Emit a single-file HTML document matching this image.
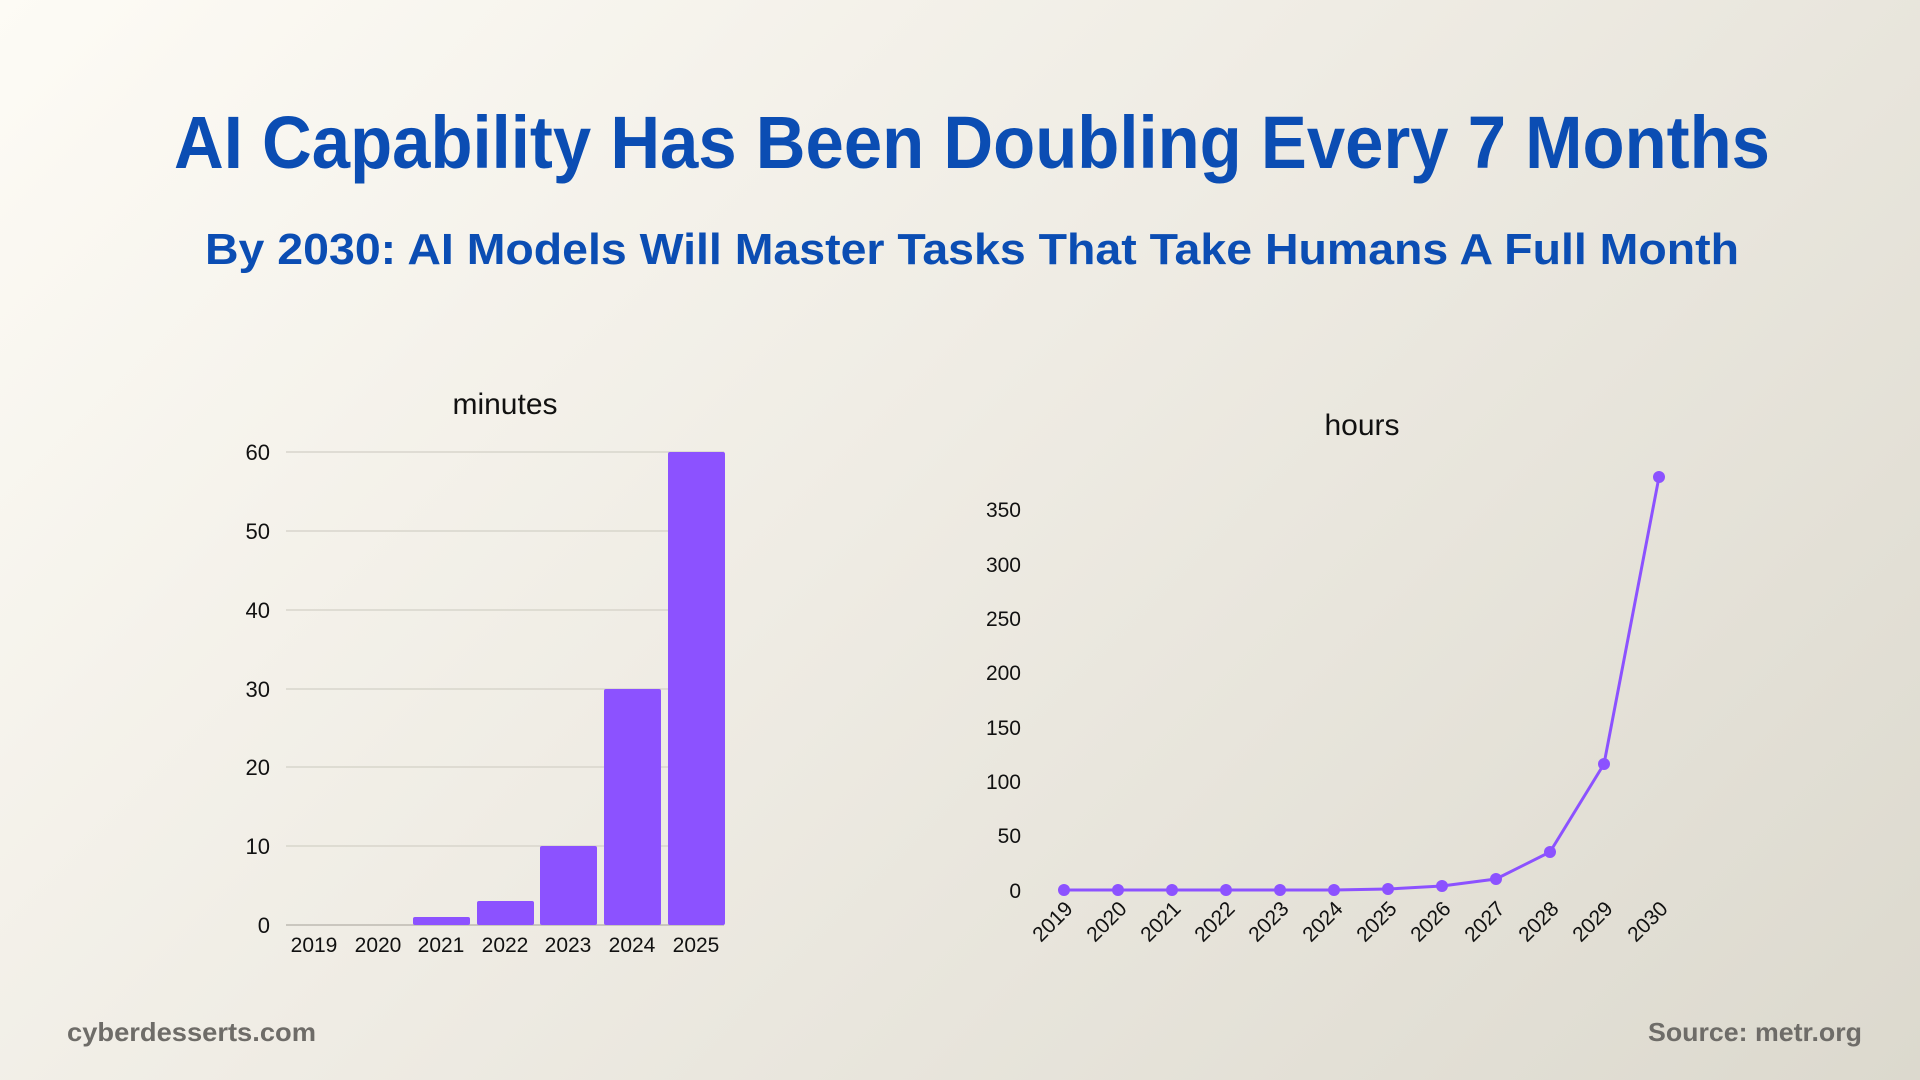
<!DOCTYPE html>
<html><head><meta charset="utf-8"><style>
html,body{margin:0;padding:0;width:1920px;height:1080px;overflow:hidden}
body{background:linear-gradient(135deg,#fdfbf5 0%,#efece4 45%,#dcd9ce 100%)}
svg{position:absolute;left:0;top:0}
</style></head><body>
<svg width="1920" height="1080" viewBox="0 0 1920 1080" font-family="Liberation Sans, DejaVu Sans, sans-serif">
<text x="972" y="168" text-anchor="middle" font-size="74" font-weight="bold" fill="#0b4db3" textLength="1596" lengthAdjust="spacingAndGlyphs">AI Capability Has Been Doubling Every 7 Months</text>
<text x="972" y="264" text-anchor="middle" font-size="44" font-weight="bold" fill="#0b4db3" textLength="1534" lengthAdjust="spacingAndGlyphs">By 2030: AI Models Will Master Tasks That Take Humans A Full Month</text>

<!-- bar chart -->
<text x="505" y="414" text-anchor="middle" font-size="30" fill="#111">minutes</text>
<g stroke="#d8d5cc" stroke-width="1.5">
<line x1="286" x2="724" y1="452" y2="452"/><line x1="286" x2="724" y1="531" y2="531"/>
<line x1="286" x2="724" y1="610" y2="610"/><line x1="286" x2="724" y1="689" y2="689"/>
<line x1="286" x2="724" y1="767" y2="767"/><line x1="286" x2="724" y1="846" y2="846"/>
</g>
<line x1="286" x2="724" y1="925" y2="925" stroke="#bdbab2" stroke-width="1.5"/>
<g font-size="22" fill="#111" text-anchor="end">
<text x="270" y="460">60</text><text x="270" y="539">50</text><text x="270" y="618">40</text>
<text x="270" y="697">30</text><text x="270" y="775">20</text><text x="270" y="854">10</text><text x="270" y="933">0</text>
</g>
<g fill="#8c52ff">
<rect x="413" y="917" width="57" height="8" rx="2"/>
<rect x="477" y="901" width="57" height="24" rx="2"/>
<rect x="540" y="846" width="57" height="79" rx="2"/>
<rect x="604" y="689" width="57" height="236" rx="2"/>
<rect x="668" y="452" width="57" height="473" rx="2"/>
</g>
<g font-size="21" fill="#111" text-anchor="middle">
<text x="314" y="952">2019</text><text x="378" y="952">2020</text><text x="441" y="952">2021</text>
<text x="505" y="952">2022</text><text x="568" y="952">2023</text><text x="632" y="952">2024</text><text x="696" y="952">2025</text>
</g>

<!-- line chart -->
<text x="1362" y="435" text-anchor="middle" font-size="30" fill="#111">hours</text>
<g font-size="21" fill="#111" text-anchor="end">
<text x="1021" y="517">350</text><text x="1021" y="572">300</text><text x="1021" y="626">250</text>
<text x="1021" y="680">200</text><text x="1021" y="735">150</text><text x="1021" y="789">100</text>
<text x="1021" y="843">50</text><text x="1021" y="898">0</text>
</g>
<polyline fill="none" stroke="#8c52ff" stroke-width="3" stroke-linejoin="round"
points="1064,890 1118,890 1172,890 1226,890 1280,890 1334,890 1388,889 1442,886 1496,879 1550,852 1604,764 1659,477"/>
<g fill="#8c52ff">
<circle cx="1064" cy="890" r="6"/><circle cx="1118" cy="890" r="6"/><circle cx="1172" cy="890" r="6"/>
<circle cx="1226" cy="890" r="6"/><circle cx="1280" cy="890" r="6"/><circle cx="1334" cy="890" r="6"/>
<circle cx="1388" cy="889" r="6"/><circle cx="1442" cy="886" r="6"/><circle cx="1496" cy="879" r="6"/>
<circle cx="1550" cy="852" r="6"/><circle cx="1604" cy="764" r="6"/><circle cx="1659" cy="477" r="6"/>
</g>
<g font-size="21" fill="#111" text-anchor="end">
<text transform="translate(1074,910) rotate(-45)">2019</text>
<text transform="translate(1128,910) rotate(-45)">2020</text>
<text transform="translate(1182,910) rotate(-45)">2021</text>
<text transform="translate(1236,910) rotate(-45)">2022</text>
<text transform="translate(1290,910) rotate(-45)">2023</text>
<text transform="translate(1344,910) rotate(-45)">2024</text>
<text transform="translate(1398,910) rotate(-45)">2025</text>
<text transform="translate(1452,910) rotate(-45)">2026</text>
<text transform="translate(1506,910) rotate(-45)">2027</text>
<text transform="translate(1560,910) rotate(-45)">2028</text>
<text transform="translate(1614,910) rotate(-45)">2029</text>
<text transform="translate(1669,910) rotate(-45)">2030</text>
</g>

<text x="67" y="1041" font-size="26" font-weight="bold" fill="#6e6c68" textLength="249" lengthAdjust="spacingAndGlyphs">cyberdesserts.com</text>
<text x="1862" y="1041" text-anchor="end" font-size="26" font-weight="bold" fill="#6e6c68" textLength="214" lengthAdjust="spacingAndGlyphs">Source: metr.org</text>
</svg>
</body></html>
